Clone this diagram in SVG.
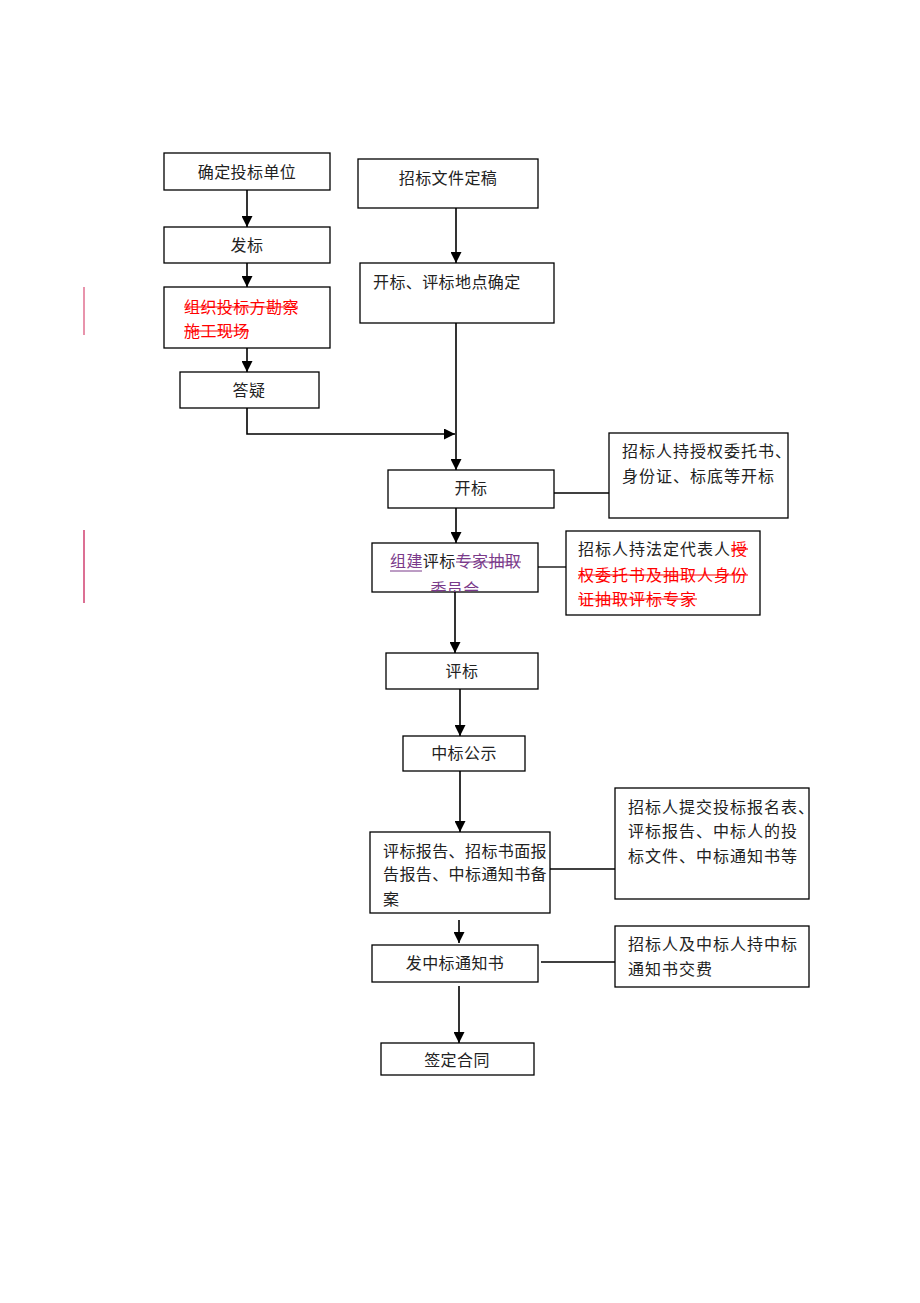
<svg xmlns="http://www.w3.org/2000/svg" width="920" height="1303" viewBox="0 0 920 1303">
<style>
.box{fill:#fff;stroke:#000;stroke-width:1.3}
.t{font-family:"Liberation Serif","Noto Sans CJK SC",serif;font-size:16px;fill:#222;letter-spacing:0.4px}
.w{letter-spacing:1px}
.r{fill:#f00}
.p{fill:#7a3a8a}
.ln{stroke:#000;stroke-width:1.3;fill:none}
.ar{stroke:#000;stroke-width:1.6;fill:none;marker-end:url(#ah)}
.st{stroke:#f00;stroke-width:1.2}
</style>
<defs>
<marker id="ah" viewBox="0 0 10 10" refX="10" refY="5" markerWidth="11" markerHeight="11" markerUnits="userSpaceOnUse" orient="auto">
<path d="M0,0 L10,5 L0,10 z" fill="#000"/>
</marker>
<clipPath id="cz"><rect x="372" y="543" width="166" height="49"/></clipPath>
</defs>
<rect width="920" height="1303" fill="#fff"/>
<g id="connectors">
<line class="ar" x1="247" y1="190" x2="247" y2="227"/>
<line class="ar" x1="247" y1="263" x2="247" y2="287"/>
<line class="ar" x1="247" y1="348" x2="247" y2="372"/>
<polyline class="ar" points="247,408 247,434 455,434"/>
<line class="ar" x1="456" y1="208" x2="456" y2="263"/>
<line class="ar" x1="456" y1="323" x2="456" y2="470"/>
<line class="ln" x1="554" y1="493" x2="609" y2="493"/>
<line class="ar" x1="456" y1="508" x2="456" y2="543"/>
<line class="ln" x1="538" y1="567" x2="566" y2="567"/>
<line class="ar" x1="455" y1="592" x2="455" y2="653"/>
<line class="ar" x1="460" y1="689" x2="460" y2="736"/>
<line class="ar" x1="460" y1="771" x2="460" y2="832"/>
<line class="ln" x1="550" y1="869" x2="615" y2="869"/>
<line class="ar" x1="459" y1="920" x2="459" y2="943"/>
<line class="ln" x1="541" y1="962" x2="615" y2="962"/>
<line class="ar" x1="459" y1="986" x2="459" y2="1043"/>
</g>
<g id="marks">
<line x1="84" y1="287" x2="84" y2="335" stroke="#e07090" stroke-width="1.5"/>
<line x1="84" y1="530" x2="84" y2="603" stroke="#d04070" stroke-width="1.5"/>
</g>
<g id="n1"><rect class="box" x="164" y="153" width="166" height="37"/><text class="t" x="247" y="178" text-anchor="middle">确定投标单位</text></g>
<g id="n2"><rect class="box" x="164" y="227" width="166" height="36"/><text class="t" x="247" y="251" text-anchor="middle">发标</text></g>
<g id="n3"><rect class="box" x="164" y="287" width="166" height="61"/>
<text class="t r" x="184" y="313">组织投标方勘察</text><line class="st" x1="184" y1="307" x2="298" y2="307"/>
<text class="t r" x="184" y="337">施工现场</text><line class="st" x1="184" y1="331" x2="249" y2="331"/></g>
<g id="n4"><rect class="box" x="180" y="372" width="139" height="36"/><text class="t" x="249" y="396" text-anchor="middle">答疑</text></g>
<g id="n5"><rect class="box" x="358" y="159" width="180" height="49"/><text class="t" x="448" y="184" text-anchor="middle">招标文件定稿</text></g>
<g id="n6"><rect class="box" x="360" y="263" width="194" height="60"/><text class="t" x="373" y="288">开标、评标地点确定</text></g>
<g id="n7"><rect class="box" x="388" y="470" width="166" height="38"/><text class="t" x="471" y="494" text-anchor="middle">开标</text></g>
<g id="n8"><rect class="box" x="609" y="433" width="179" height="85"/>
<text class="t w" x="622" y="457">招标人持授权委托书、</text><text class="t w" x="622" y="482">身份证、标底等开标</text></g>
<g id="n9"><rect class="box" x="372" y="543" width="166" height="49"/>
<text class="t" x="390" y="567"><tspan class="p">组建</tspan><tspan>评标</tspan><tspan class="p">专家抽取</tspan></text>
<line x1="390" y1="571" x2="422" y2="571" stroke="#7a3a8a" stroke-width="1"/>
<line x1="456" y1="562" x2="521" y2="562" stroke="#7a3a8a" stroke-width="1"/>
<g clip-path="url(#cz)"><text class="t p" x="455" y="595" text-anchor="middle" font-size="15">委员会</text></g></g>
<g id="n10"><rect class="box" x="566" y="531" width="194" height="84"/>
<text class="t w" x="578" y="555">招标人持法定代表人<tspan class="r">授</tspan></text><line class="st" x1="731" y1="549" x2="748" y2="549"/>
<text class="t r w" x="578" y="581">权委托书及抽取人身份</text><line class="st" x1="578" y1="575" x2="748" y2="575"/>
<text class="t r w" x="578" y="605">证抽取评标专家</text><line class="st" x1="578" y1="599" x2="697" y2="599"/></g>
<g id="n11"><rect class="box" x="386" y="653" width="152" height="36"/><text class="t" x="462" y="677" text-anchor="middle">评标</text></g>
<g id="n12"><rect class="box" x="403" y="736" width="122" height="35"/><text class="t" x="464" y="759" text-anchor="middle">中标公示</text></g>
<g id="n13"><rect class="box" x="370" y="832" width="180" height="81"/>
<text class="t" x="383" y="857">评标报告、招标书面报</text><text class="t" x="383" y="880">告报告、中标通知书备</text><text class="t" x="383" y="905">案</text></g>
<g id="n14"><rect class="box" x="615" y="788" width="194" height="111"/>
<text class="t w" x="628" y="813">招标人提交投标报名表、</text><text class="t w" x="628" y="837">评标报告、中标人的投</text><text class="t w" x="628" y="862">标文件、中标通知书等</text></g>
<g id="n15"><rect class="box" x="372" y="945" width="166" height="37"/><text class="t" x="455" y="969" text-anchor="middle">发中标通知书</text></g>
<g id="n16"><rect class="box" x="615" y="926" width="194" height="61"/>
<text class="t w" x="628" y="950">招标人及中标人持中标</text><text class="t w" x="628" y="975">通知书交费</text></g>
<g id="n17"><rect class="box" x="381" y="1043" width="153" height="32"/><text class="t" x="457" y="1066" text-anchor="middle">签定合同</text></g>
</svg>
